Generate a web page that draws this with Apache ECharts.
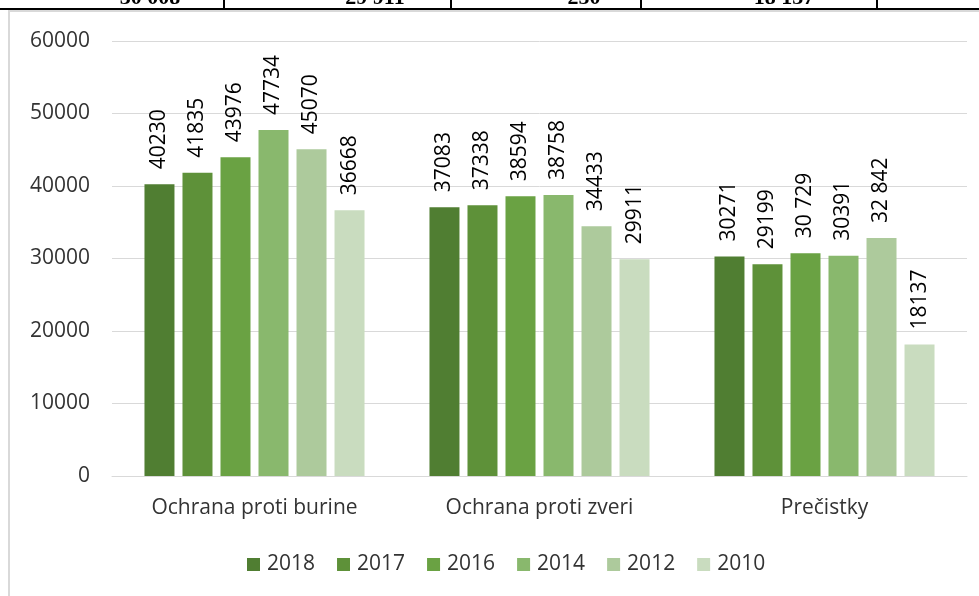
<!DOCTYPE html>
<html>
<head>
<meta charset="utf-8">
<script src="https://cdn.jsdelivr.net/npm/echarts@6/dist/echarts.min.js"></script>
<style>
  html, body { margin: 0; padding: 0; background: #fff; }
  #wrap { position: relative; width: 979px; height: 596px; overflow: hidden; background: #fff; }
  #tbl { position: absolute; left: 0; top: 0; width: 979px; height: 10px; overflow: hidden; }
  #tbl .hl { position: absolute; left: 0; top: 8px; width: 979px; height: 2px; background: #000; }
  #tbl .vl { position: absolute; top: 0; width: 2px; height: 10px; background: #000; }
  #tbl .cell { position: absolute; top: -16px; font-family: "Liberation Serif", serif; font-weight: bold; font-size: 22px; color: #000; transform: translateX(-50%); white-space: nowrap; }
  #frame { position: absolute; left: 8px; top: 10px; width: 980px; height: 600px; border-left: 2px solid #d9d9d9; border-top: 2px solid #d9d9d9; box-sizing: border-box; }
  #chart { position: absolute; left: 0; top: 0; width: 979px; height: 596px; }
</style>
</head>
<body>
<div id="wrap">
  <div id="frame"></div>
  <div id="chart"></div>
  <div id="tbl">
    <div class="hl"></div>
    <div class="vl" style="left:223px"></div>
    <div class="vl" style="left:450px"></div>
    <div class="vl" style="left:640px"></div>
    <div class="vl" style="left:876px"></div>
    <div class="cell" style="left:150px">30 008</div>
    <div class="cell" style="left:375px">29 911</div>
    <div class="cell" style="left:584px">250</div>
    <div class="cell" style="left:784px">18 137</div>
  </div>
</div>
<script>
// Categories of forest-care work
const categories = ['Ochrana proti burine', 'Ochrana proti zveri', 'Prečistky'];

// Survey years (legend order)
const years = ['2018', '2017', '2016', '2014', '2012', '2010'];

// Values per year, one per category
const v2018 = [40230, 37083, 30271];
const v2017 = [41835, 37338, 29199];
const v2016 = [43976, 38594, 30729];
const v2014 = [47734, 38758, 30391];
const v2012 = [45070, 34433, 32842];
const v2010 = [36668, 29911, 18137];

// Values whose labels are written with a thousands space
const spacedLabels = [30729, 32842];

// Y axis ticks
const yTicks = [0, 10000, 20000, 30000, 40000, 50000, 60000];

const seriesValues = [v2018, v2017, v2016, v2014, v2012, v2010];
const colors = ['#507e32', '#5e9139', '#6aa243', '#89b86d', '#adca9c', '#c9dcbf'];

const FONT = '"Open Sans", "Noto Sans", sans-serif';

function fmtLabel(v) {
  if (spacedLabels.indexOf(v) >= 0) {
    const s = String(v);
    return s.slice(0, s.length - 3) + ' ' + s.slice(-3);
  }
  return String(v);
}

const chart = echarts.init(document.getElementById('chart'), null, { renderer: 'canvas' });

chart.setOption({
  animation: false,
  color: colors,
  textStyle: { fontFamily: FONT },
  grid: { left: 112, right: 12, top: 41, bottom: 120, containLabel: false },
  legend: {
    data: years,
    left: 247,
    top: 554,
    padding: 0,
    itemWidth: 13,
    itemHeight: 13,
    itemGap: 22,
    icon: 'rect',
    textStyle: { fontFamily: FONT, fontSize: 21, color: '#333', padding: [0, 0, 0, 2] }
  },
  xAxis: {
    type: 'category',
    data: categories,
    axisLine: { show: true, lineStyle: { color: '#d9d9d9', width: 1 } },
    axisTick: { show: false },
    axisLabel: { fontFamily: FONT, fontSize: 21, color: '#333', margin: 22 }
  },
  yAxis: {
    type: 'value',
    min: yTicks[0],
    max: yTicks[yTicks.length - 1],
    interval: yTicks[1] - yTicks[0],
    axisLine: { show: false },
    axisTick: { show: false },
    splitLine: { lineStyle: { color: '#d9d9d9', width: 1 } },
    axisLabel: {
      fontFamily: FONT, fontSize: 21, color: '#333', margin: 22,
      formatter: v => String(v)
    }
  },
  series: years.map((y, i) => ({
    name: y,
    type: 'bar',
    data: seriesValues[i],
    barWidth: 30,
    barGap: '26.7%',
    itemStyle: { color: colors[i] },
    label: {
      show: true,
      position: 'top',
      rotate: 90,
      align: 'left',
      verticalAlign: 'middle',
      distance: 15,
      fontFamily: FONT,
      fontSize: 21,
      color: '#000',
      formatter: p => fmtLabel(p.value)
    }
  }))
});
</script>
</body>
</html>
